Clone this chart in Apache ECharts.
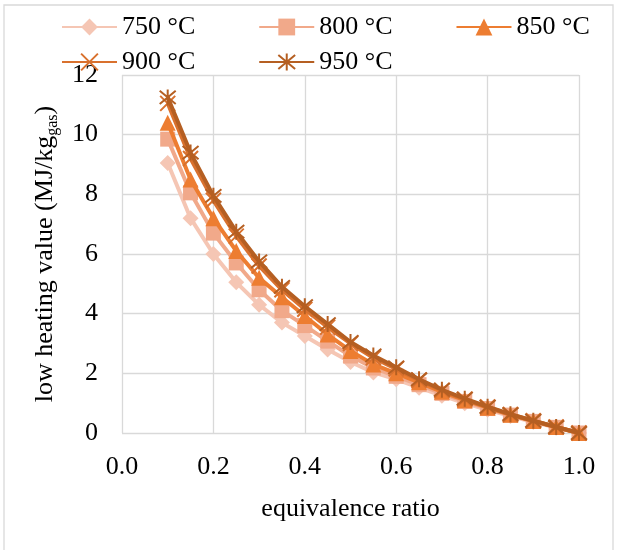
<!DOCTYPE html>
<html>
<head>
<meta charset="utf-8">
<script src="https://cdn.jsdelivr.net/npm/echarts@6/dist/echarts.min.js"></script>
<style>html,body{margin:0;padding:0;background:#fff}#c{width:620px;height:550px}</style>
</head>
<body>
<div id="c"></div>
<script>
var ratios = [0.1,0.15,0.2,0.25,0.3,0.35,0.4,0.45,0.5,0.55,0.6,0.65,0.7,0.75,0.8,0.85,0.9,0.95,1.0];
var lhv750 = [9.05,7.2,6.0,5.05,4.3,3.7,3.25,2.8,2.38,2.03,1.8,1.52,1.25,1.0,0.78,0.57,0.37,0.18,0];
var lhv800 = [9.85,8.05,6.7,5.7,4.8,4.1,3.6,3.08,2.58,2.18,1.9,1.62,1.33,1.06,0.82,0.6,0.39,0.19,0];
var lhv850 = [10.4,8.5,7.2,6.1,5.2,4.55,3.92,3.3,2.75,2.3,2.0,1.7,1.38,1.1,0.85,0.61,0.4,0.2,0];
var lhv900 = [11.05,9.2,7.8,6.6,5.6,4.8,4.15,3.55,3.0,2.52,2.15,1.77,1.43,1.13,0.87,0.62,0.41,0.2,0];
var lhv950 = [11.25,9.4,7.95,6.75,5.75,4.9,4.25,3.65,3.05,2.6,2.2,1.8,1.45,1.15,0.88,0.63,0.41,0.2,0];
var seriesNames = ['750 °C','800 °C','850 °C','900 °C','950 °C'];
var xTicks = {min:0, max:1, interval:0.2};
var yTicks = {min:0, max:12, interval:2};

var FONT = 'Liberation Serif';
var colors = ['#F5C6B4','#F1A98A','#ED7D31','#D9712E','#B55F22'];
var symbols = ['diamond','rect','triangle','path://M0,0L10,10M10,0L0,10','path://M0,0L10,10M10,0L0,10M5,-1L5,11'];
var sizes = [16,15,16,15,16];
var dataSets = [lhv750,lhv800,lhv850,lhv900,lhv950];

function pairs(ys){ return ratios.map(function(x,i){ return [x, ys[i]]; }); }

var series = dataSets.map(function(ys, i){
  var stroke = i >= 3;
  return {
    name: seriesNames[i],
    type: 'line',
    data: pairs(ys),
    symbol: symbols[i],
    symbolSize: sizes[i],
    showAllSymbol: true,
    lineStyle: {color: colors[i], width: 4},
    itemStyle: stroke ? {color: colors[i], borderColor: colors[i], borderWidth: 2} : {color: colors[i], borderWidth: 0},
    emphasis: {disabled: true},
    z: 2 + i
  };
});

var legendCommon = {
  orient: 'horizontal',
  itemWidth: 55,
  itemHeight: 21,
  itemGap: 63,
  textStyle: {fontFamily: FONT, fontSize: 26, color: '#000'},
  selectedMode: false
};

var chart = echarts.init(document.getElementById('c'));
chart.setOption({
  animation: false,
  backgroundColor: '#fff',
  legend: [
    Object.assign({left: 56, top: 9, data: seriesNames.slice(0,3)}, legendCommon),
    Object.assign({left: 56, top: 44, data: seriesNames.slice(3)}, legendCommon)
  ],
  grid: {left: 122, right: 41, top: 75, bottom: 117, containLabel: false},
  xAxis: {
    type: 'value', min: xTicks.min, max: xTicks.max, interval: xTicks.interval,
    name: 'equivalence ratio', nameLocation: 'middle', nameGap: 63,
    nameTextStyle: {fontFamily: FONT, fontSize: 26, color: '#000'},
    axisLine: {show: false}, axisTick: {show: false},
    axisLabel: {fontFamily: FONT, fontSize: 26, color: '#000', margin: 21, formatter: function(v){ return v.toFixed(1); }},
    splitLine: {show: true, lineStyle: {color: '#D9D9D9', width: 1.3}}
  },
  yAxis: {
    type: 'value', min: yTicks.min, max: yTicks.max, interval: yTicks.interval,
    name: '{a|low heating value (MJ/kg}{s|gas}{a|)}', nameLocation: 'middle', nameGap: 58, nameRotate: 90,
    nameTextStyle: {
      fontFamily: FONT, fontSize: 26, color: '#000',
      rich: {
        a: {fontFamily: FONT, fontSize: 26, color: '#000'},
        s: {fontFamily: FONT, fontSize: 16, color: '#000', padding: [16,0,0,0]}
      }
    },
    axisLine: {show: false}, axisTick: {show: false},
    axisLabel: {fontFamily: FONT, fontSize: 26, color: '#000', margin: 24},
    splitLine: {show: true, lineStyle: {color: '#D9D9D9', width: 1.3}}
  },
  graphic: [{
    type: 'rect', silent: true, z: -10,
    shape: {x: 4, y: 5, width: 609, height: 600},
    style: {fill: 'none', stroke: '#D9D9D9', lineWidth: 1.3}
  }],
  series: series
});
</script>
</body>
</html>
